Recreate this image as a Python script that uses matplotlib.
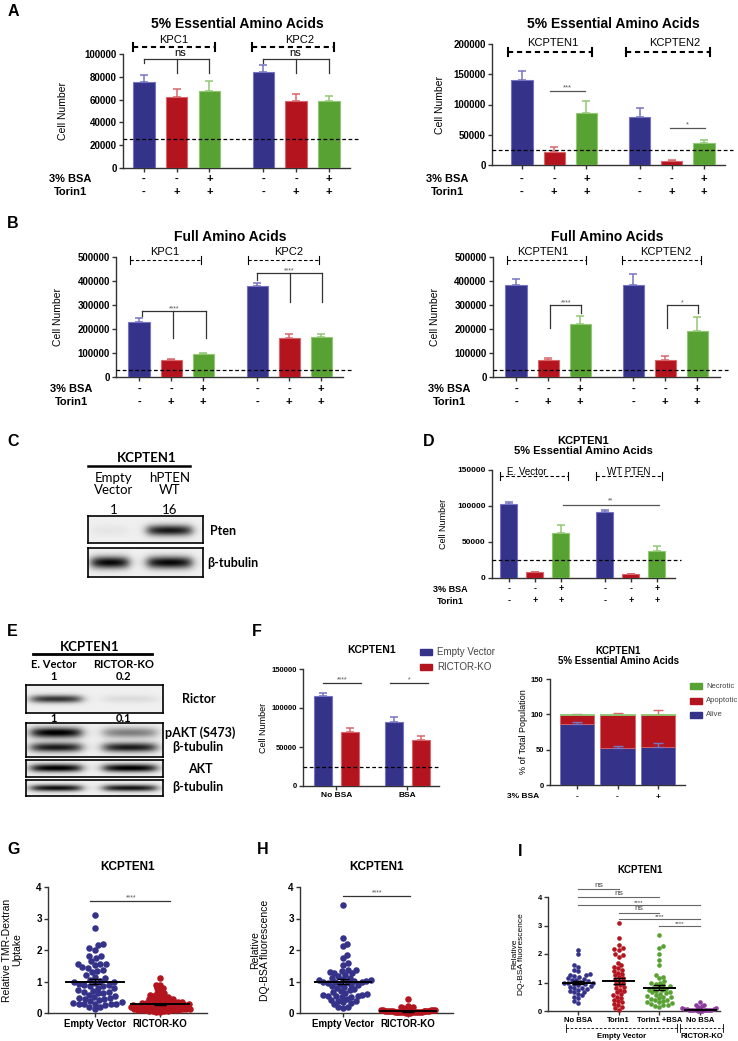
import numpy as np
import matplotlib
matplotlib.use("Agg")
import matplotlib.pyplot as plt
from matplotlib import transforms
from matplotlib.patches import Rectangle

W, H = 738, 1041
plt.rcParams["font.family"] = ["Liberation Sans", "DejaVu Sans"]

BLUE, RED, GREEN, PURPLE = "#35328a", "#b3141d", "#58a133", "#8d3b9c"
BLUE_E, RED_E, GREEN_E = "#7574c2", "#d9666b", "#92c874"
BLOT_FONT = ["Lato", "DejaVu Sans"]

# -------------------------
# data
# -------------------------
bsa_signs = ["-", "-", "+", "-", "-", "+"]
torin_signs = ["-", "+", "+", "-", "+", "+"]

a_left_vals = [75000, 62000, 67500, 84000, 58500, 58500]
a_left_err = [7000, 7000, 8500, 6000, 6500, 4500]
a_right_vals = [141000, 22000, 86000, 80000, 7000, 36000]
a_right_err = [14000, 7000, 19000, 14000, 2000, 5000]
b_left_vals = [230000, 72000, 97000, 378000, 162000, 165000]
b_left_err = [15000, 2500, 5000, 12000, 16000, 15000]
b_right_vals = [383000, 70000, 220000, 383000, 72000, 190000]
b_right_err = [25000, 10000, 35000, 47000, 16000, 60000]
d_vals = [103000, 8000, 63000, 92000, 5000, 37000]
d_err = [2500, 1000, 10000, 3000, 1000, 8000]
threshold = [25000, 25000, 30000, 30000, 25000]

f_groups = ["No BSA", "BSA"]
f_ev_vals = [116000, 82000]
f_ev_err = [3000, 6500]
f_rk_vals = [69000, 58500]
f_rk_err = [5000, 6000]

f_alive = [87, 52, 54]
f_alive_err = [1.5, 3, 6]
f_apop = [12, 47, 45]
f_apop_err = [1, 3, 7]
f_necro = [1, 1, 1]
f_bsa = ["-", "-", "+"]

# blot band intensities (lane 1, lane 2)
c_pten = [0.04, 0.85]
c_tub = [0.92, 0.92]
e_rictor = [0.75, 0.08]
e_pakt = [0.97, 0.45]
e_tub1 = [0.85, 0.85]
e_akt = [0.97, 0.97]
e_tub2 = [0.9, 0.88]

g_ev = [3.1, 2.7, 2.2, 2.15, 2.07, 2.0, 1.82, 1.8, 1.75, 1.65, 1.57, 1.55, 1.55, 1.52,
        1.45, 1.43, 1.35, 1.32, 1.3, 1.2, 1.15, 1.12, 1.06, 1.03, 1.0, 0.98, 0.96, 0.92,
        0.9, 0.88, 0.87, 0.85, 0.8, 0.78, 0.74, 0.7, 0.68, 0.67, 0.65, 0.62, 0.58, 0.55,
        0.5, 0.48, 0.47, 0.46, 0.45, 0.42, 0.38, 0.35, 0.32, 0.3, 0.3, 0.29, 0.28, 0.27,
        0.25, 0.2, 0.18, 0.12]
g_rk = [1.1, 0.9, 0.88, 0.8, 0.78, 0.72, 0.65, 0.62, 0.6, 0.58, 0.55, 0.52, 0.5, 0.5,
        0.48, 0.46, 0.45, 0.43, 0.41, 0.4, 0.38, 0.37, 0.36, 0.35, 0.34, 0.33, 0.32, 0.31,
        0.3, 0.3, 0.29, 0.28, 0.27, 0.27, 0.26, 0.25, 0.25, 0.24, 0.23, 0.22, 0.22, 0.21,
        0.2, 0.2, 0.19, 0.18, 0.18, 0.17, 0.16, 0.16, 0.15, 0.14, 0.14, 0.13, 0.12, 0.12,
        0.11, 0.1, 0.1, 0.09, 0.08, 0.08, 0.07, 0.06, 0.05, 0.05, 0.04, 0.03]
g_means = [1.0, 0.27]
g_sem = [0.08, 0.03]

h_ev = [3.42, 2.38, 2.2, 2.12, 1.85, 1.75, 1.58, 1.52, 1.38, 1.35, 1.33, 1.3, 1.28, 1.26,
        1.22, 1.18, 1.12, 1.1, 1.08, 1.06, 1.05, 1.03, 1.02, 1.0, 1.0, 0.98, 0.97, 0.95,
        0.93, 0.9, 0.88, 0.86, 0.83, 0.8, 0.76, 0.73, 0.7, 0.66, 0.63, 0.6, 0.58, 0.56,
        0.55, 0.54, 0.53, 0.52, 0.5, 0.46, 0.42, 0.38, 0.37, 0.35, 0.32, 0.28, 0.2, 0.18, 0.17]
h_rk = [0.44, 0.22, 0.2, 0.18, 0.17, 0.15, 0.13, 0.12, 0.11, 0.1, 0.1, 0.09, 0.08, 0.08,
        0.07, 0.07, 0.06, 0.06, 0.06, 0.05, 0.05, 0.05, 0.05, 0.04, 0.04, 0.04, 0.04, 0.03,
        0.03, 0.03, 0.03, 0.02, 0.02, 0.02, 0.02, 0.01, 0.01, 0.01]
h_means = [1.0, 0.05]
h_sem = [0.07, 0.01]

i_groups = ["No BSA", "Torin1", "Torin1 +BSA", "No BSA"]
i_nobsa = [2.15, 2.0, 1.6, 1.55, 1.45, 1.4, 1.3, 1.28, 1.25, 1.22, 1.2, 1.15, 1.12, 1.1,
           1.08, 1.05, 1.03, 1.0, 1.0, 0.98, 0.95, 0.93, 0.9, 0.88, 0.85, 0.82, 0.8, 0.78,
           0.75, 0.7, 0.68, 0.65, 0.6, 0.55, 0.5, 0.45, 0.35, 0.28]
i_torin = [3.1, 2.55, 2.3, 2.2, 2.18, 2.15, 2.0, 1.95, 1.9, 1.7, 1.6, 1.55, 1.5, 1.45, 1.4,
           1.35, 1.3, 1.25, 1.2, 1.15, 1.1, 1.05, 1.0, 0.95, 0.9, 0.85, 0.8, 0.75, 0.7,
           0.65, 0.6, 0.55, 0.5, 0.45, 0.4, 0.35, 0.3, 0.25, 0.2, 0.15, 0.1, 0.05]
i_torin_bsa = [2.68, 2.28, 2.22, 2.0, 1.78, 1.6, 1.25, 1.2, 1.15, 1.05, 1.0, 0.98, 0.95,
               0.9, 0.88, 0.85, 0.8, 0.78, 0.75, 0.72, 0.7, 0.68, 0.65, 0.62, 0.6, 0.55,
               0.52, 0.5, 0.48, 0.45, 0.42, 0.4, 0.38, 0.35, 0.32, 0.3, 0.28, 0.25, 0.22,
               0.2, 0.18, 0.15]
i_rk = [0.32, 0.22, 0.2, 0.18, 0.15, 0.12, 0.1, 0.1, 0.08, 0.07, 0.06, 0.05, 0.05, 0.04,
        0.04, 0.03, 0.03, 0.02, 0.02, 0.01, 0.01, 0.01]
i_means = [1.0, 1.06, 0.82, 0.05]
i_sem = [0.05, 0.1, 0.08, 0.01]

fig = plt.figure(figsize=(W / 100, H / 100), dpi=100)


def add_ax(l, t, r, b):
    return fig.add_axes([l / W, 1 - b / H, (r - l) / W, (b - t) / H])


def ftext(x, y, s, **kw):
    kw.setdefault("ha", "center")
    kw.setdefault("va", "center")
    fig.text(x / W, 1 - y / H, s, **kw)


def fline(xs, ys, **kw):
    fig.add_artist(plt.Line2D([x / W for x in xs], [1 - y / H for y in ys],
                              transform=fig.transFigure, **kw))


def style(ax, xlim, ymax, yticks, fs=6.0, lw=1.0):
    ax.set_xlim(*xlim)
    ax.set_ylim(0, ymax)
    for s in ("top", "right"):
        ax.spines[s].set_visible(False)
    for s in ("left", "bottom"):
        ax.spines[s].set_linewidth(lw)
        ax.spines[s].set_color("#333333")
    ax.set_yticks(yticks)
    ax.set_yticklabels([f"{t:g}" if t < 10 else f"{int(t)}" for t in yticks],
                       fontsize=fs, fontweight="bold")
    ax.tick_params(direction="out", length=3, width=lw, color="#333333", pad=1.5)
    ax.patch.set_alpha(0)


def ylabel_at(ax, box, xpx, text, fs):
    l, t, r, b = box
    ax.set_ylabel(text, fontsize=fs, linespacing=1.0)
    ax.yaxis.set_label_coords((xpx - l) / (r - l), 0.5)


def bar_panel(box, pos, vals, errs, xlim, ymax, yticks, thr, fs=7.0, bw=0.66):
    ax = add_ax(*box)
    cols = [BLUE, RED, GREEN] * 2
    edges = [BLUE_E, RED_E, GREEN_E] * 2
    ax.bar(pos, vals, bw, color=cols, edgecolor=edges, linewidth=0.8, zorder=3)
    for p, v, e, c in zip(pos, vals, errs, edges):
        ax.errorbar(p, v, yerr=[[0], [e]], fmt="none", ecolor=c, elinewidth=1.1,
                    capsize=3, capthick=1.1, zorder=2)
    ax.plot([xlim[0], xlim[1] + 0.25], [thr, thr], color="k", lw=0.9,
            ls=(0, (3, 2)), zorder=4, clip_on=False)
    style(ax, xlim, ymax, yticks, fs=fs)
    ax.set_xticks(pos)
    ax.set_xticklabels([])
    return ax


def sign_rows(ax, pos, rows, ys, label_x, fs):
    tr = transforms.blended_transform_factory(ax.transData, fig.transFigure)
    for (lab, signs), y in zip(rows, ys):
        ftext(label_x, y, lab, fontsize=fs, fontweight="bold")
        for p, s in zip(pos, signs):
            ax.text(p, 1 - y / H, s, transform=tr, ha="center", va="center",
                    fontsize=fs, fontweight="bold", clip_on=False)


def dash_bracket(ax, x0, x1, y, cap, lw=0.8, dash=(0, (3, 2))):
    ax.plot([x0, x1], [y, y], color="k", lw=lw, ls=dash, clip_on=False)
    ax.plot([x0, x0], [y - cap, y + cap], color="k", lw=lw, clip_on=False)
    ax.plot([x1, x1], [y - cap, y + cap], color="k", lw=lw, clip_on=False)


def sig_line(ax, x0, x1, y, drops=(), color="#333333", lw=0.9):
    ax.plot([x0, x1], [y, y], color=color, lw=lw, clip_on=False, zorder=5)
    for x, yb in drops:
        ax.plot([x, x], [y, yb], color=color, lw=lw, clip_on=False, zorder=5)


def blot(box, lanes, bands, label_list):
    l, t, r, b = box
    ax = add_ax(l, t, r, b)
    ny, nx = 60, 220
    yy, xx = np.mgrid[0:1:ny * 1j, 0:1:nx * 1j]
    img = np.full((ny, nx), 0.94)
    for yc, sy, inten in bands:
        for (xc, hw), v in zip(lanes, inten):
            px = 1 / (1 + np.exp(-(xx - (xc - hw)) / 0.025)) / (1 + np.exp((xx - (xc + hw)) / 0.025))
            py = np.exp(-0.5 * ((yy - yc) / sy) ** 2)
            img -= v * px * py * (1 - 0.25 * ((xx - xc) / hw) ** 2).clip(0.5, 1)
    ax.imshow(np.clip(img, 0, 1), cmap="gray", vmin=0, vmax=1, aspect="auto",
              extent=[0, 1, 1, 0], interpolation="bilinear")
    ax.set_xticks([])
    ax.set_yticks([])
    for s in ax.spines.values():
        s.set_linewidth(1.2)
    for txt, x, y in label_list:
        ftext(x, y, txt, ha="left", fontsize=9, fontweight="bold", family=BLOT_FONT)
    return ax


def swarm_x(vals, d, sx, sy, maxw):
    vals = np.asarray(vals, float)
    steps = np.arange(0.5, 120, 0.5)
    cand = np.concatenate([[0.0], np.ravel(np.column_stack([steps, -steps]))])
    xs = np.zeros(len(vals))
    px, py = [], []
    for n, i in enumerate(np.argsort(vals)):
        y = vals[i] * sy
        x = 0.0
        if px:
            P, Q = np.array(px), np.array(py)
            near = np.abs(Q - y) < d
            if near.any():
                c = cand if n % 2 == 0 else -cand
                dx = c[:, None] - P[near][None, :]
                dy = (Q[near] - y)[None, :]
                ok = np.all(dx ** 2 + dy ** 2 >= d * d, axis=1)
                x = c[np.argmax(ok)]
        xs[i] = x
        px.append(x)
        py.append(y)
    widest = np.abs(xs).max()
    if widest > maxw:
        xs = xs * maxw / widest
    return xs / sx


def dot_panel(box, groups, colors, means, sems, xlim, ymax, ds, maxws, s, mw, fs,
              labels, lab_fs):
    l, t, r, b = box
    ax = add_ax(*box)
    sx = (r - l) / (xlim[1] - xlim[0])
    sy = (b - t) / ymax
    for k, (vals, c, d, mx) in enumerate(zip(groups, colors, ds, maxws)):
        off = swarm_x(vals, d, sx, sy, mx)
        ax.scatter(k + off, vals, s=s, color=c, linewidths=0, zorder=3, clip_on=False)
    for k, (m, e) in enumerate(zip(means, sems)):
        ax.plot([k - mw, k + mw], [m, m], color="k", lw=1.4, zorder=4)
        ax.errorbar(k, m, yerr=e, fmt="none", ecolor="k", elinewidth=1.0, capsize=4,
                    capthick=1.0, zorder=4)
    style(ax, xlim, ymax, [0, 1, 2, 3, 4], fs=fs)
    ax.set_xticks(range(len(groups)))
    ax.set_xticklabels(labels, fontsize=lab_fs, fontweight="bold")
    return ax


# panel letters
for letter, x, y in [("A", 8, 12), ("B", 7, 224), ("C", 7, 442), ("D", 423, 442),
                     ("E", 7, 632), ("F", 252, 632), ("G", 7, 850), ("H", 257, 850),
                     ("I", 518, 851)]:
    ftext(x, y, letter, ha="left", fontsize=11.5, fontweight="bold")

rows = [("3% BSA", bsa_signs), ("Torin1", torin_signs)]

# ---- A left
pos_a = [0, 1, 2, 3.65, 4.65, 5.65]
box = (123, 54, 350, 168)
ax = bar_panel(box, pos_a, a_left_vals, a_left_err, (-0.64, 6.3), 100000,
               [0, 20000, 40000, 60000, 80000, 100000], threshold[0])
ylabel_at(ax, box, 68, "Cell Number", 7.5)
ftext(237, 24, "5% Essential Amino Acids", fontsize=10, fontweight="bold")
for g0, lab, lx, nsx in [(0, "KPC1", 0.9, 1.1), (3.65, "KPC2", 4.77, 4.62)]:
    dash_bracket(ax, g0 - 0.34, g0 + 2.17, 106000, 3500, lw=1.5, dash=(0, (2.5, 1.8)))
    ax.text(lx, 112500, lab, ha="center", va="center", fontsize=8, clip_on=False)
    sig_line(ax, g0, g0 + 2, 95600, [(g0, 92500), (g0 + 1, 83000), (g0 + 2, 83000)])
    ax.text(nsx, 100500, "ns", ha="center", va="center", fontsize=8, clip_on=False)
sign_rows(ax, pos_a, rows, [179, 192], 70, 8)

# ---- A right
box = (492, 44, 725, 165)
ax = bar_panel(box, pos_a, a_right_vals, a_right_err, (-0.93, 6.3), 200000,
               [0, 50000, 100000, 150000, 200000], threshold[1])
ylabel_at(ax, box, 445, "Cell Number", 7.5)
ftext(613, 24, "5% Essential Amino Acids", fontsize=10, fontweight="bold")
for g0, lab, lx in [(0, "KCPTEN1", 0.96), (3.65, "KCPTEN2", 4.75)]:
    dash_bracket(ax, g0 - 0.43, g0 + 2.17, 187000, 6500, lw=1.5, dash=(0, (2.5, 1.8)))
    ax.text(lx, 202000, lab, ha="center", va="center", fontsize=8, clip_on=False)
sig_line(ax, 0.87, 1.96, 122000, color="#555555")
ax.text(1.42, 127000, "***", ha="center", va="center", fontsize=5.5, color="#555555")
sig_line(ax, 4.6, 5.68, 61000, color="#555555")
ax.text(5.14, 66000, "*", ha="center", va="center", fontsize=5.5, color="#555555")
sign_rows(ax, pos_a, rows, [179, 192], 447, 8)

# ---- B left
pos_b = [0, 1, 2, 3.69, 4.69, 5.69]
box = (116, 257, 343, 377)
ax = bar_panel(box, pos_b, b_left_vals, b_left_err, (-0.72, 6.37), 500000,
               [0, 100000, 200000, 300000, 400000, 500000], threshold[2])
ylabel_at(ax, box, 63, "Cell Number", 7.5)
ftext(230, 237, "Full Amino Acids", fontsize=10, fontweight="bold")
for g0, lab, lx in [(0, "KPC1", 0.8), (3.69, "KPC2", 4.66)]:
    dash_bracket(ax, g0 - 0.28, g0 + 1.94, 487000, 17000)
    ax.text(lx, 522000, lab, ha="center", va="center", fontsize=8, clip_on=False)
sig_line(ax, 0.09, 2.1, 275000, [(0.09, 255000), (1.07, 162000), (2.1, 162000)])
ax.text(1.1, 285000, "****", ha="center", va="center", fontsize=5, color="#555555")
sig_line(ax, 3.69, 5.7, 433000, [(3.69, 405000), (4.7, 312000), (5.7, 312000)])
ax.text(4.7, 443000, "****", ha="center", va="center", fontsize=5, color="#555555")
sign_rows(ax, pos_b, rows, [389, 402], 71, 8)

# ---- B right
pos_br = [0, 1, 2, 3.66, 4.66, 5.66]
box = (493, 257, 720, 377)
ax = bar_panel(box, pos_br, b_right_vals, b_right_err, (-0.72, 6.37), 500000,
               [0, 100000, 200000, 300000, 400000, 500000], threshold[3])
ylabel_at(ax, box, 440, "Cell Number", 7.5)
ftext(607, 237, "Full Amino Acids", fontsize=10, fontweight="bold")
for g0, lab, lx in [(0, "KCPTEN1", 0.84), (3.6, "KCPTEN2", 4.66)]:
    dash_bracket(ax, g0 - 0.28, g0 + 2.18, 487000, 17000)
    ax.text(lx, 522000, lab, ha="center", va="center", fontsize=8, clip_on=False)
sig_line(ax, 1.06, 2.03, 300000, [(1.06, 204000), (2.03, 268000)])
ax.text(1.55, 310000, "****", ha="center", va="center", fontsize=5, color="#555555")
sig_line(ax, 4.72, 5.68, 300000, [(4.72, 204000), (5.68, 268000)])
ax.text(5.2, 310000, "*", ha="center", va="center", fontsize=5, color="#555555")
sign_rows(ax, pos_br, rows, [389, 402], 449, 8)

# ---- C blot
ftext(147, 458, "KCPTEN1", fontsize=9.5, fontweight="bold", family=BLOT_FONT)
fline([88, 190], [466, 466], color="k", lw=1.8)
ftext(114, 484, "Empty\nVector", fontsize=9.5, family=BLOT_FONT, linespacing=1.1)
ftext(170, 484, "hPTEN\nWT", fontsize=9.5, family=BLOT_FONT, linespacing=1.1)
ftext(114, 510, "1", fontsize=9.5, family=BLOT_FONT)
ftext(170, 510, "16", fontsize=9.5, family=BLOT_FONT)
c_lanes = [(0.19, 0.17), (0.71, 0.2)]
blot((88, 516, 203, 543), c_lanes, [(0.55, 0.14, c_pten)], [("Pten", 210, 531)])
blot((88, 548, 203, 577), c_lanes, [(0.5, 0.15, c_tub)], [("β-tubulin", 207, 563)])

# ---- D
pos_d = [0, 1, 2, 3.7, 4.7, 5.7]
box = (492, 470, 675, 578)
ax = bar_panel(box, pos_d, d_vals, d_err, (-0.65, 6.4), 150000,
               [0, 50000, 100000, 150000], threshold[4], fs=6)
ylabel_at(ax, box, 448, "Cell Number", 6.5)
ftext(583, 446, "KCPTEN1\n5% Essential Amino Acids", fontsize=8, fontweight="bold",
      linespacing=1.05)
for g0, g1, lab, lx in [(-0.35, 2.27, "E. Vector", 0.7), (3.35, 5.9, "WT PTEN", 4.6)]:
    dash_bracket(ax, g0, g1, 141700, 5500, lw=0.8)
    ax.text(lx, 147000, lab, ha="center", va="center", fontsize=7, clip_on=False)
sig_line(ax, 2.08, 5.8, 101000, color="#555555")
ax.text(3.9, 106500, "**", ha="center", va="center", fontsize=5, color="#555555")
sign_rows(ax, pos_d, rows, [589, 601], 450, 6.5)

# ---- E blot
ftext(90, 647, "KCPTEN1", fontsize=9.5, fontweight="bold", family=BLOT_FONT)
fline([33, 152], [654, 654], color="k", lw=2.0)
ftext(54, 664, "E. Vector", fontsize=8, fontweight="bold", family=BLOT_FONT)
ftext(124, 664, "RICTOR-KO", fontsize=8, fontweight="bold", family=BLOT_FONT)
ftext(54, 677, "1", fontsize=8, fontweight="bold", family=BLOT_FONT)
ftext(124, 677, "0.2", fontsize=8, fontweight="bold", family=BLOT_FONT)
ftext(54, 719, "1", fontsize=8, fontweight="bold", family=BLOT_FONT)
ftext(124, 719, "0.1", fontsize=8, fontweight="bold", family=BLOT_FONT)
e_lanes = [(0.22, 0.19), (0.76, 0.2)]
blot((26, 685, 163, 713), e_lanes, [(0.5, 0.1, e_rictor)], [("Rictor", 182, 699)])
blot((26, 723, 163, 757), e_lanes, [(0.28, 0.11, e_pakt), (0.72, 0.1, e_tub1)],
     [("pAKT (S473)", 165, 733), ("β-tubulin", 172, 747)])
blot((26, 760, 163, 777), e_lanes, [(0.5, 0.16, e_akt)], [("AKT", 188, 769)])
blot((26, 780, 163, 796), e_lanes, [(0.5, 0.15, e_tub2)], [("β-tubulin", 172, 787)])

# ---- F left
pos_f = [0, 1, 2.62, 3.62]
box = (303, 669, 439, 786)
ax = add_ax(*box)
for k, (ev, eve, rk, rke) in enumerate(zip(f_ev_vals, f_ev_err, f_rk_vals, f_rk_err)):
    for p, v, e, c, ec in [(pos_f[2 * k], ev, eve, BLUE, BLUE_E), (pos_f[2 * k + 1], rk, rke, RED, RED_E)]:
        ax.bar(p, v, 0.67, color=c, edgecolor=ec, linewidth=0.8, zorder=3)
        ax.errorbar(p, v, yerr=[[0], [e]], fmt="none", ecolor=ec, elinewidth=1.1,
                    capsize=3, capthick=1.1, zorder=2)
ax.plot([-0.74, 4.35], [25000, 25000], color="k", lw=0.9, ls=(0, (3, 2)), zorder=4, clip_on=False)
style(ax, (-0.74, 4.3), 150000, [0, 50000, 100000, 150000], fs=5.5)
ax.set_xticks([0.5, 3.12])
ax.set_xticklabels(f_groups, fontsize=6, fontweight="bold")
ylabel_at(ax, box, 268, "Cell Number", 6.5)
ftext(372, 650, "KCPTEN1", fontsize=7.5, fontweight="bold")
sig_line(ax, 0, 1.4, 132000)
ax.text(0.7, 136500, "****", ha="center", va="center", fontsize=5, color="#555555")
sig_line(ax, 2.5, 3.9, 132000)
ax.text(3.2, 136500, "*", ha="center", va="center", fontsize=5, color="#555555")
for (lab, c), y in zip([("Empty Vector", BLUE), ("RICTOR-KO", RED)], [652, 667]):
    fig.add_artist(Rectangle((420 / W, 1 - (y + 3) / H), 12 / W, 6 / H, color=c,
                             transform=fig.transFigure))
    ftext(437, y, lab, ha="left", fontsize=7, color="#444444")

# ---- F right
pos_s = [0, 1, 2]
box = (550, 679, 685, 785)
ax = add_ax(*box)
bot2 = [a + b for a, b in zip(f_alive, f_apop)]
ax.bar(pos_s, f_alive, 0.86, color=BLUE, edgecolor=BLUE_E, linewidth=0.6, zorder=3)
ax.bar(pos_s, f_apop, 0.86, bottom=f_alive, color=RED, edgecolor=RED_E, linewidth=0.6, zorder=3)
ax.bar(pos_s, f_necro, 0.86, bottom=bot2, color=GREEN, edgecolor=GREEN_E, linewidth=0.6, zorder=3)
for p, a, ae, t, te in zip(pos_s, f_alive, f_alive_err, bot2, f_apop_err):
    ax.errorbar(p, a, yerr=[[0], [ae]], fmt="none", ecolor=BLUE_E, elinewidth=1.0,
                capsize=3.5, capthick=1.0, zorder=4)
    ax.errorbar(p, t, yerr=[[0], [te]], fmt="none", ecolor=RED_E, elinewidth=1.0,
                capsize=3.5, capthick=1.0, zorder=2)
style(ax, (-0.67, 2.67), 150, [0, 50, 100, 150], fs=5.5)
ax.set_xticks(pos_s)
ax.set_xticklabels([])
ylabel_at(ax, box, 528, "% of Total Population", 6.5)
ftext(618, 656, "KCPTEN1\n5% Essential Amino Acids", fontsize=7, fontweight="bold",
      linespacing=1.1)
sign_rows(ax, pos_s, [("3% BSA", f_bsa)], [797], 523, 6)
for (lab, c), y in zip([("Necrotic", GREEN), ("Apoptotic", RED), ("Alive", BLUE)], [686, 701, 715]):
    fig.add_artist(Rectangle((690 / W, 1 - (y + 3) / H), 12 / W, 6 / H, color=c,
                             transform=fig.transFigure))
    ftext(706, y, lab, ha="left", fontsize=5.5, color="#444444")

# ---- G
box = (48, 887, 207, 1013)
ax = dot_panel(box, [g_ev, g_rk], [BLUE, RED], g_means, g_sem, (-0.72, 1.72), 4,
               ds=[5.5, 3.6], maxws=[28, 30], s=22, mw=0.44, fs=7,
               labels=["Empty Vector", "RICTOR-KO"], lab_fs=7)
ylabel_at(ax, box, 22, "Relative TMR-Dextran\nUptake", 7.5)
ftext(128, 867, "KCPTEN1", fontsize=8.5, fontweight="bold")
sig_line(ax, -0.08, 1.15, 3.55)
ax.text(0.55, 3.66, "****", ha="center", va="center", fontsize=5, color="#555555")

# ---- H
box = (300, 887, 453, 1013)
ax = dot_panel(box, [h_ev, h_rk], [BLUE, RED], h_means, h_sem, (-0.66, 1.69), 4,
               ds=[5.5, 3.4], maxws=[28, 27], s=22, mw=0.43, fs=7,
               labels=["Empty Vector", "RICTOR-KO"], lab_fs=7)
ylabel_at(ax, box, 270, "Relative\nDQ-BSA fluorescence", 7.5)
ftext(377, 867, "KCPTEN1", fontsize=8.5, fontweight="bold")
sig_line(ax, 0, 1.03, 3.7)
ax.text(0.52, 3.81, "****", ha="center", va="center", fontsize=5, color="#555555")

# ---- I
box = (548, 897, 720, 1011)
ax = dot_panel(box, [i_nobsa, i_torin, i_torin_bsa, i_rk], [BLUE, RED, GREEN, PURPLE],
               i_means, i_sem, (-0.74, 3.49), 4, ds=[4.2, 4.2, 4.2, 3.0],
               maxws=[16, 16, 16, 18], s=11, mw=0.38, fs=5.5, labels=i_groups, lab_fs=5.5)
ylabel_at(ax, box, 525, "Relative\nDQ-BSA fluorescence", 6)
ftext(640, 870, "KCPTEN1", fontsize=7, fontweight="bold")
for x0, x1, y, lab in [(0, 1, 4.28, "ns"), (0, 2, 4.0, "ns"), (0, 3, 3.72, "****"),
                       (1, 2, 3.44, "ns"), (1, 3, 3.23, "****"), (2, 3, 2.98, "****")]:
    sig_line(ax, x0, x1, y, color="#666666", lw=0.8)
    ax.text((x0 + x1) / 2, y + (0.14 if lab == "ns" else 0.08), lab, ha="center",
            va="center", fontsize=6 if lab == "ns" else 4.5, color="#444444", clip_on=False)
fline([566, 677], [1028, 1028], color="k", lw=0.6, ls=(0, (3, 2)))
fline([566, 566], [1024, 1032], color="k", lw=0.6)
fline([677, 677], [1024, 1032], color="k", lw=0.6)
fline([680, 723], [1028, 1028], color="k", lw=0.6, ls=(0, (3, 2)))
fline([680, 680], [1024, 1032], color="k", lw=0.6)
fline([723, 723], [1024, 1032], color="k", lw=0.6)
ftext(622, 1036, "Empty Vector", fontsize=5.5, fontweight="bold")
ftext(702, 1036, "RICTOR-KO", fontsize=5.5, fontweight="bold")

fig.savefig("out.png", dpi=100)
